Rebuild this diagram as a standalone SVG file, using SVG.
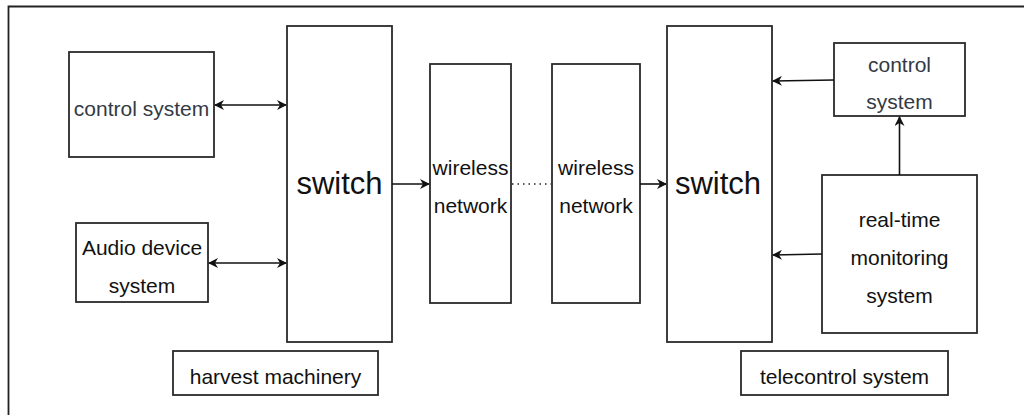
<svg xmlns="http://www.w3.org/2000/svg" width="1024" height="415" viewBox="0 0 1024 415">
<style>
.box{fill:#fff;stroke:#2a2a2a;stroke-width:1.8}
.t{font-family:"Liberation Sans",Arial,sans-serif;font-size:21px;fill:#111;text-anchor:middle}
.cs{fill:#333a44}
.big{font-size:31px}
.edge{stroke:#111;stroke-width:1.6;fill:none}
</style>
<defs>
<marker id="ah" viewBox="0 0 10 10" refX="9" refY="5" markerWidth="10" markerHeight="10" markerUnits="userSpaceOnUse" orient="auto-start-reverse">
<path d="M0,0 L10,5 L0,10 L3,5 Z" fill="#111"/>
</marker>
</defs>
<rect width="1024" height="415" fill="#fff"/>
<path d="M8.5,415 V6.5 H1024" fill="none" stroke="#222" stroke-width="1.8"/>

<g id="control-left">
<rect class="box" x="69" y="52" width="145" height="105"/>
<text class="t cs" x="141.5" y="116">control system</text>
</g>
<g id="audio">
<rect class="box" x="76" y="223" width="132" height="79"/>
<text class="t" x="142" y="255">Audio device</text>
<text class="t" x="142" y="293">system</text>
</g>
<g id="switch-left">
<rect class="box" x="287" y="26" width="105" height="316"/>
<text class="t big" x="339.5" y="194">switch</text>
</g>
<g id="harvest">
<rect class="box" x="173" y="351" width="205" height="44"/>
<text class="t" x="275.5" y="384">harvest machinery</text>
</g>
<g id="wireless1">
<rect class="box" x="430" y="64" width="81" height="239"/>
<text class="t" x="470.5" y="175">wireless</text>
<text class="t" x="470.5" y="213">network</text>
</g>
<g id="wireless2">
<rect class="box" x="552" y="64" width="88" height="239"/>
<text class="t" x="596" y="175">wireless</text>
<text class="t" x="596" y="213">network</text>
</g>
<g id="switch-right">
<rect class="box" x="667" y="26" width="105" height="316"/>
<text class="t big" x="718" y="194">switch</text>
</g>
<g id="control-right">
<rect class="box" x="834" y="43" width="131" height="73"/>
<text class="t cs" x="899.5" y="72">control</text>
<text class="t cs" x="899.5" y="109">system</text>
</g>
<g id="monitoring">
<rect class="box" x="822" y="175" width="155" height="158"/>
<text class="t" x="899.5" y="227">real-time</text>
<text class="t" x="899.5" y="265">monitoring</text>
<text class="t" x="899.5" y="303">system</text>
</g>
<g id="telecontrol">
<rect class="box" x="741" y="351" width="207" height="44"/>
<text class="t" x="844.5" y="384">telecontrol system</text>
</g>

<g id="connectors">
<line class="edge" x1="215" y1="105" x2="286" y2="105" marker-start="url(#ah)" marker-end="url(#ah)"/>
<line class="edge" x1="209" y1="263" x2="286" y2="263" marker-start="url(#ah)" marker-end="url(#ah)"/>
<line class="edge" x1="392" y1="184" x2="429" y2="184" marker-end="url(#ah)"/>
<line x1="512" y1="184" x2="551" y2="184" stroke="#222" stroke-width="1.4" stroke-dasharray="1.5,4"/>
<line class="edge" x1="640" y1="184" x2="666" y2="184" marker-end="url(#ah)"/>
<line class="edge" x1="834" y1="80" x2="773" y2="81" marker-end="url(#ah)"/>
<line class="edge" x1="822" y1="254" x2="773" y2="255" marker-end="url(#ah)"/>
<line class="edge" x1="899.5" y1="175" x2="899.5" y2="117" marker-end="url(#ah)"/>
</g>
</svg>
